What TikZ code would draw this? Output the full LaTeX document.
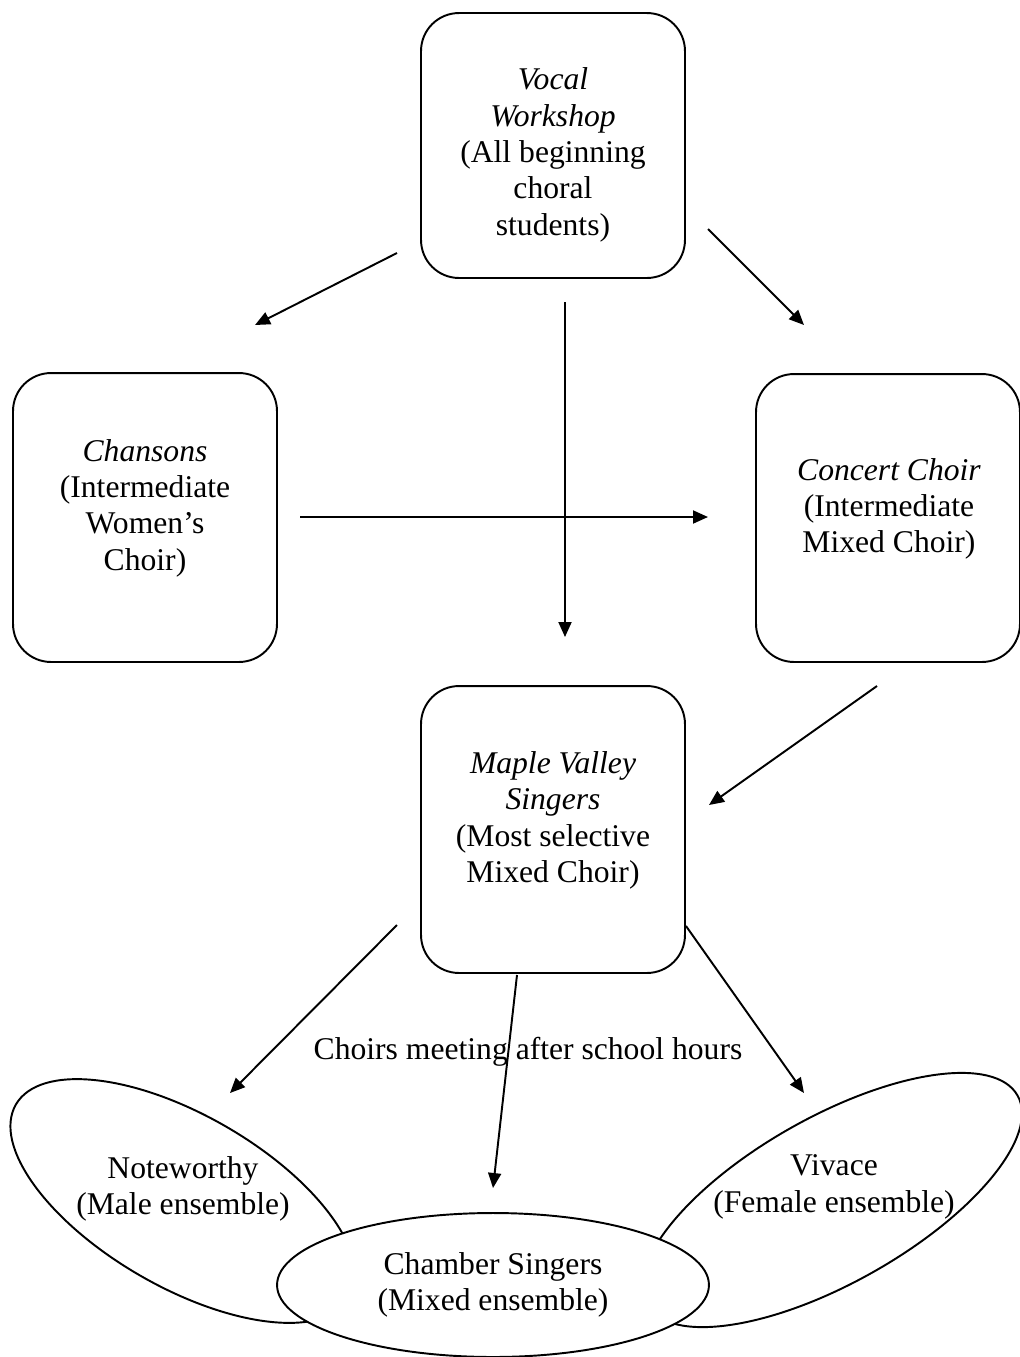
\documentclass[tikz,border=0pt]{standalone}
\usepackage{fontspec}
\setmainfont{Liberation Serif}
\usetikzlibrary{shapes.geometric, arrows.meta}

\tikzset{
	choirbox/.style={draw, rounded corners=0.76cm, minimum width=5.28cm, line width=1.1pt},
	ens/.style={draw, ellipse, line width=1.1pt},
	lbl/.style={align=center, font={\fontsize{18}{20.7}\selectfont}},
	arr/.style={-{Triangle[length=0.3cm, width=0.26cm]}, line width=1.1pt}
}

\begin{document}
\begin{tikzpicture}[x=0.02cm, y=-0.02cm]
		\useasboundingbox (0,0) rectangle (1019,1357);

		% Choirs
		\node[choirbox, minimum height=5.3cm] (workshop) at (553,145.5) {};
		\node[lbl] (workshop-t) at (553,155) {\textit{Vocal}\\\textit{Workshop}\\(All beginning\\choral\\students)};
		\node[choirbox, minimum height=5.78cm] (chansons) at (145,517.5) {};
		\node[lbl] (chansons-t) at (145,508) {\textit{Chansons}\\(Intermediate\\Women’s\\Choir)};
		\node[choirbox, minimum height=5.76cm] (concert) at (888,518) {};
		\node[lbl] (concert-t) at (889,509) {\textit{Concert Choir}\\(Intermediate\\Mixed Choir)};
		\node[choirbox, minimum height=5.74cm] (maple) at (553,829.5) {};
		\node[lbl] (maple-t) at (553,820.5) {\textit{Maple Valley}\\\textit{Singers}\\(Most selective\\Mixed Choir)};

		% Ensembles
		\node[ens, rotate=-30, minimum width=7.72cm, minimum height=3.44cm] (noteworthy) at (183,1201) {};
		\node[lbl] (noteworthy-t) at (183,1189) {Noteworthy\\(Male ensemble)};
		\node[ens, rotate=29.4, minimum width=8.52cm, minimum height=3.32cm] (vivace) at (832,1200) {};
		\node[lbl] (vivace-t) at (834,1187) {Vivace\\(Female ensemble)};
		\node[ens, lbl, fill=white, minimum width=8.64cm, minimum height=2.88cm] (chamber) at (493,1285) {Chamber Singers\\(Mixed ensemble)};

		\node[lbl] (afterschool) at (528,1052) {Choirs meeting after school hours};

		% Arrow ends
		\coordinate (ws-l) at (397,253);
		\coordinate (ws-r) at (708,229);
		\coordinate (ws-b) at (565,302);
		\coordinate (chan-in) at (255,325);
		\coordinate (chan-out) at (300,517);
		\coordinate (conc-in) at (804,325);
		\coordinate (conc-in2) at (708,517);
		\coordinate (conc-out) at (877,686);
		\coordinate (maple-in) at (565,637);
		\coordinate (maple-in2) at (709,805);
		\coordinate (maple-l) at (397,925);
		\coordinate (maple-b) at (517,975);
		\coordinate (maple-r) at (686,926);
		\coordinate (note-in) at (230,1093);
		\coordinate (cham-in) at (493,1188);
		\coordinate (viv-in) at (804,1093);

		% Arrows
		\draw[arr] (ws-l) -- (chan-in);
		\draw[arr] (ws-r) -- (conc-in);
		\draw[arr] (ws-b) -- (maple-in);
		\draw[arr] (chan-out) -- (conc-in2);
		\draw[arr] (conc-out) -- (maple-in2);
		\draw[arr] (maple-l) -- (note-in);
		\draw[arr] (maple-b) -- (cham-in);
		\draw[arr] (maple-r) -- (viv-in);
	\end{tikzpicture}
\end{document}
